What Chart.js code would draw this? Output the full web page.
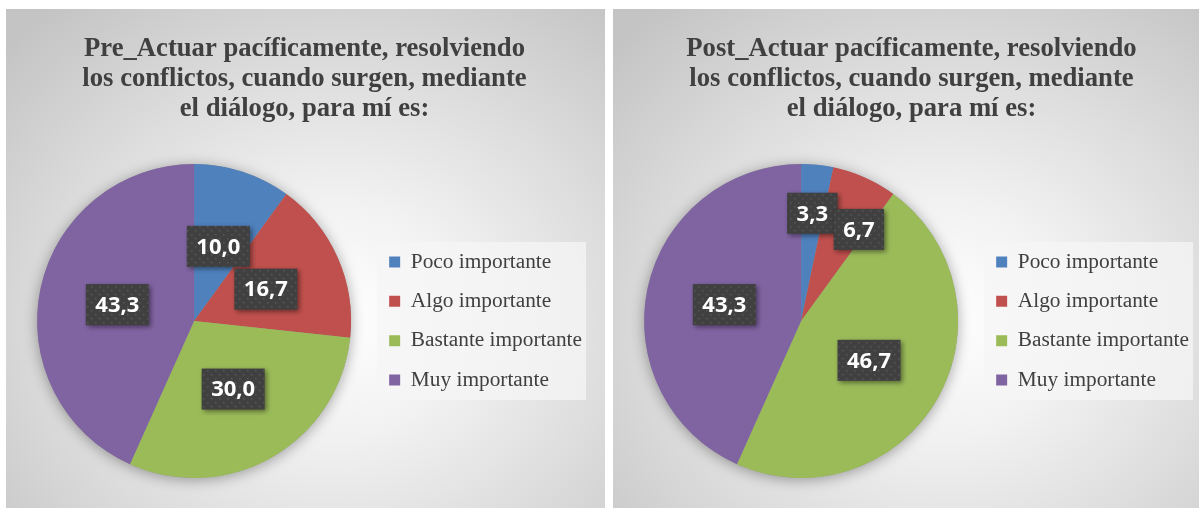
<!DOCTYPE html>
<html>
<head>
<meta charset="utf-8">
<script src="https://cdn.jsdelivr.net/npm/chart.js@4.4.0/dist/chart.umd.min.js"></script>
<style>
  body { margin: 0; background: #fff; width: 1199px; height: 510px; overflow: hidden; position: relative; }
  .panel {
    position: absolute; top: 9px; width: 599px; height: 499px;
    background: radial-gradient(ellipse 75% 80% at 55% 62%, #ffffff 0%, #f1f1f1 30%, #dbdbdb 65%, #c4c4c4 100%);
  }
  #p1 { left: 6px; }
  #p2 { left: 613px; }
</style>
</head>
<body>
<div class="panel" id="p1"><canvas id="preChart" width="599" height="499"></canvas></div>
<div class="panel" id="p2"><canvas id="postChart" width="599" height="499"></canvas></div>
<script>
var categories = ['Poco importante', 'Algo importante', 'Bastante importante', 'Muy importante'];
var preValues = [10.0, 16.7, 30.0, 43.3];
var postValues = [3.3, 6.7, 46.7, 43.3];
var preTitle = ['Pre_Actuar pacíficamente, resolviendo', 'los conflictos, cuando surgen, mediante', 'el diálogo, para mí es:'];
var postTitle = ['Post_Actuar pacíficamente, resolviendo', 'los conflictos, cuando surgen, mediante', 'el diálogo, para mí es:'];
var sliceColors = ['#4F81BD', '#C0504D', '#9BBB59', '#8064A2'];

// dotted fill for the value boxes
function makeDots(ctx) {
  var c = document.createElement('canvas');
  c.width = 8; c.height = 8;
  var g = c.getContext('2d');
  g.fillStyle = '#404040';
  g.fillRect(0, 0, 8, 8);
  g.fillStyle = '#575757';
  g.fillRect(1, 1, 1.5, 1.5);
  g.fillRect(5, 5, 1.5, 1.5);
  return ctx.createPattern(c, 'repeat');
}

var pieShadow = {
  id: 'pieShadow',
  beforeDraw: function(chart) {
    var ctx = chart.ctx, lg = chart.legend;
    // legend background
    var cy = (lg.top + lg.bottom) / 2;
    ctx.save();
    ctx.fillStyle = 'rgba(246,246,246,0.75)';
    ctx.fillRect(lg.left + 6, cy - 79, lg.width - 12, 158);
    ctx.restore();
  },
  beforeDatasetsDraw: function(chart) {
    var arc = chart.getDatasetMeta(0).data[0];
    var ctx = chart.ctx;
    ctx.save();
    ctx.shadowColor = 'rgba(0,0,0,0.35)';
    ctx.shadowBlur = 14;
    ctx.shadowOffsetY = 2;
    ctx.beginPath();
    ctx.arc(arc.x, arc.y, arc.outerRadius, 0, Math.PI * 2);
    ctx.fillStyle = '#999';
    ctx.fill();
    ctx.restore();
  }
};

var valueBoxes = {
  id: 'valueBoxes',
  afterDatasetsDraw: function(chart) {
    var ctx = chart.ctx;
    var meta = chart.getDatasetMeta(0);
    var data = chart.data.datasets[0].data;
    var total = data.reduce(function(a, b) { return a + b; }, 0);
    var dots = makeDots(ctx);
    var boxes = [];
    ctx.save();
    ctx.font = 'bold 22px "Open Sans"';
    meta.data.forEach(function(arc, i) {
      var text = data[i].toFixed(1).replace('.', ',');
      var w = ctx.measureText(text).width + 19, h = 41;
      var a = (arc.startAngle + arc.endAngle) / 2;
      var dist = arc.outerRadius * (data[i] / total < 0.08 ? 0.69 : 0.5);
      var x = arc.x + Math.cos(a) * dist, y = arc.y + Math.sin(a) * dist;
      var prev = boxes[boxes.length - 1];
      // slide along the slice while it collides with the previous label
      while (prev && Math.abs(x - prev.x) < (w + prev.w) / 2 - 4 && Math.abs(y - prev.y) < (h + prev.h) / 2 && a < arc.endAngle) {
        a += 0.005;
        x = arc.x + Math.cos(a) * dist;
        y = arc.y + Math.sin(a) * dist;
      }
      boxes.push({x: x, y: y, w: w, h: h, text: text});
    });
    boxes.forEach(function(b) {
      ctx.save();
      ctx.shadowColor = 'rgba(0,0,0,0.45)';
      ctx.shadowBlur = 5;
      ctx.shadowOffsetX = 2;
      ctx.shadowOffsetY = 2;
      ctx.fillStyle = dots;
      ctx.fillRect(b.x - b.w / 2, b.y - b.h / 2, b.w, b.h);
      ctx.restore();
      ctx.fillStyle = '#ffffff';
      ctx.textAlign = 'center';
      ctx.textBaseline = 'middle';
      ctx.fillText(b.text, b.x, b.y + 1);
    });
    ctx.restore();
  }
};

function makePie(id, titleLines, values) {
  var ctx = document.getElementById(id).getContext('2d');
  return new Chart(ctx, {
    type: 'pie',
    data: {
      labels: categories,
      datasets: [{
        data: values,
        backgroundColor: sliceColors,
        borderWidth: 0
      }]
    },
    options: {
      responsive: false,
      animation: false,
      layout: { padding: { left: 11, right: 13, top: 0, bottom: 30 } },
      plugins: {
        tooltip: { enabled: false },
        title: {
          display: true,
          text: titleLines,
          color: '#404040',
          font: { family: 'Liberation Serif', size: 26.67, weight: 'bold', lineHeight: 1.125 },
          padding: { top: 25, bottom: 40 }
        },
        legend: {
          position: 'right',
          fullSize: false,
          labels: {
            color: '#404040',
            font: { family: 'Liberation Serif', size: 21.33 },
            boxWidth: 11,
            boxHeight: 11,
            padding: 18
          }
        }
      }
    },
    plugins: [pieShadow, valueBoxes]
  });
}

makePie('preChart', preTitle, preValues);
makePie('postChart', postTitle, postValues);
</script>
</body>
</html>
